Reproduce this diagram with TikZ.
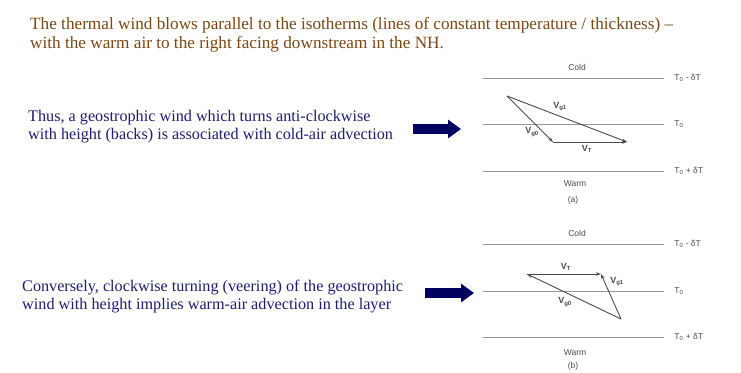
\documentclass[tikz,border=0pt]{standalone}
\usepackage{fontspec}
\setmainfont{Liberation Serif}
\setsansfont{Liberation Sans}
\usepackage{tikz}
\usetikzlibrary{arrows.meta, positioning}
\usepackage{xcolor}
\definecolor{titlebrown}{RGB}{122,72,20}
\definecolor{textblue}{RGB}{30,30,112}
\definecolor{arrowblue}{RGB}{0,0,96}
\definecolor{isogray}{RGB}{150,150,150}
\definecolor{vecgray}{RGB}{75,75,75}

\tikzset{
  isotherm/.style={isogray, line width=0.8pt},
  vec/.style={vecgray, line width=0.9pt, -{Stealth[length=5pt,width=3.5pt]}},
  lbl/.style={font=\sffamily\fontsize{8.5}{9}\selectfont, text=vecgray, inner sep=0pt},
  vlbl/.style={font=\sffamily\bfseries\fontsize{9}{10}\selectfont, text=vecgray, inner sep=0pt},
  bigarrow/.style={arrowblue, line width=10pt, -{Triangle[length=13pt,width=18pt]}},
  caption/.style={align=left, anchor=north west, inner sep=0pt, text=textblue,
    font=\fontsize{16.2}{18}\selectfont},
}

\begin{document}
\begin{tikzpicture}[x=1pt, y=-1pt]
  \useasboundingbox[fill=white] (0,0) rectangle (741,372);

  % texto de arriba
  \node[caption, text=titlebrown, font=\fontsize{17.2}{19.5}\selectfont] (title) at (30,17)
    {The thermal wind blows parallel to the isotherms (lines of constant temperature / thickness) --\\
     with the warm air to the right facing downstream in the NH.};

  % (a) backing -- cold-air advection
  \node[caption] (backtext) at (28,110)
    {Thus, a geostrophic wind which turns anti-clockwise\\
     with height (backs) is associated with cold-air advection};
  \coordinate (arr-a-s) at (413,129);
  \coordinate (arr-a-e) at (461,129);
  \draw[bigarrow] (arr-a-s) -- (arr-a-e);

  \node[lbl] (a-cold) at (577,67) {Cold};
  \draw[isotherm] (483,78) -- (664,78) node[lbl, right=10pt] (a-tm) {T\textsubscript{0} - δT};
  \draw[isotherm] (483,124) -- (664,124) node[lbl, right=10pt] (a-t0) {T\textsubscript{0}};
  \draw[isotherm] (483,171) -- (664,171) node[lbl, right=10pt] (a-tp) {T\textsubscript{0} + δT};
  \node[lbl] (a-warm) at (575,184) {Warm};
  \node[lbl] (a-tag) at (573,200) {(a)};

  \coordinate (a-o) at (507,96);
  \coordinate (a-g0) at (553,142);
  \coordinate (a-g1) at (627,142);
  \draw[vec] (a-o) -- (a-g0);
  \draw[vec] (a-g0) -- (a-g1);
  \draw[vec] (a-o) -- (a-g1);
  \node[vlbl] at (560,107) {V\textsubscript{g1}};
  \node[vlbl] at (532,132) {V\textsubscript{g0}};
  \node[vlbl] at (587,149) {V\textsubscript{T}};

  % (b) veering -- warm-air advection
  \node[caption] (veertext) at (22,280)
    {Conversely, clockwise turning (veering) of the geostrophic\\
     wind with height implies warm-air advection in the layer};
  \coordinate (arr-b-s) at (425,293);
  \coordinate (arr-b-e) at (474,293);
  \draw[bigarrow] (arr-b-s) -- (arr-b-e);

  \node[lbl] (b-cold) at (577,233) {Cold};
  \draw[isotherm] (483,244) -- (664,244) node[lbl, right=10pt] (b-tm) {T\textsubscript{0} - δT};
  \draw[isotherm] (483,291) -- (664,291) node[lbl, right=10pt] (b-t0) {T\textsubscript{0}};
  \draw[isotherm] (483,337) -- (664,337) node[lbl, right=10pt] (b-tp) {T\textsubscript{0} + δT};
  \node[lbl] (b-warm) at (575,353) {Warm};
  \node[lbl] (b-tag) at (573,366) {(b)};

  \coordinate (b-o) at (621,319);
  \coordinate (b-g0) at (527,274);
  \coordinate (b-g1) at (601,274);
  \draw[vec] (b-o) -- (b-g0);
  \draw[vec] (b-g0) -- (b-g1);
  \draw[vec] (b-o) -- (b-g1);
  \node[vlbl] at (566,267) {V\textsubscript{T}};
  \node[vlbl] at (617,282) {V\textsubscript{g1}};
  \node[vlbl] at (565,302) {V\textsubscript{g0}};
\end{tikzpicture}
\end{document}
